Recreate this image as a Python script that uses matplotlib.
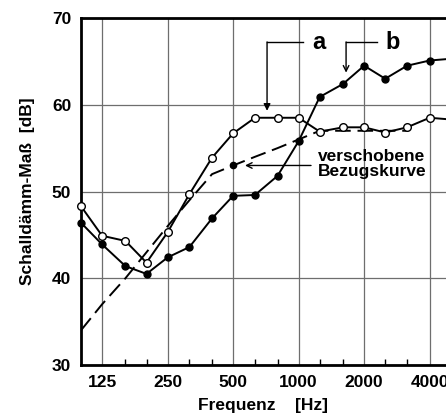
import numpy as np
import matplotlib
matplotlib.use('Agg')
import matplotlib.pyplot as plt
from matplotlib.ticker import FixedLocator, NullFormatter

plt.rcParams['font.family'] = ['Liberation Sans', 'DejaVu Sans']
plt.rcParams['font.weight'] = 'bold'

# third-octave band centres
freqs = [100, 125, 160, 200, 250, 315, 400, 500, 630, 800, 1000,
         1250, 1600, 2000, 2500, 3150, 4000, 5000]
curve_a = [48.3, 44.9, 44.3, 41.8, 45.3, 49.7, 53.9, 56.7, 58.5, 58.5, 58.5,
           56.9, 57.4, 57.4, 56.8, 57.4, 58.5, 58.3]
curve_b = [46.4, 43.9, 41.4, 40.5, 42.4, 43.6, 46.9, 49.5, 49.6, 51.8, 55.8,
           60.9, 62.4, 64.5, 63.0, 64.5, 65.1, 65.3]
ref_freqs = [100, 125, 160, 200, 250, 315, 400, 500, 630, 800, 1000,
             1250, 1600, 2000, 2500, 3150]
ref_curve = [34, 37, 40, 43, 46, 49, 52, 53, 54, 55, 56, 57, 57, 57, 57, 57]
octave_ticks = [125, 250, 500, 1000, 2000, 4000]
octave_labels = ['125', '250', '500', '1000', '2000', '4000']
y_ticks = [30, 40, 50, 60, 70]

fig = plt.figure(figsize=(4.46, 4.20), dpi=100)
ax = fig.add_axes([81 / 446, 55 / 420, 365 / 446, 347 / 420])
ax.set_xscale('log', base=2)
ax.set_xlim(100, 4755)
ax.set_ylim(30, 70)

ax.plot(ref_freqs, ref_curve, color='black', lw=1.4, ls=(0, (8, 3.5)), zorder=3)
ax.plot([500], [53], 'o', color='black', ms=4.5, zorder=4)
ax.plot(freqs, curve_a, '-o', color='black', lw=1.4, ms=5.5,
        mfc='white', mec='black', mew=1.0, zorder=5, clip_on=False)
ax.plot(freqs, curve_b, '-o', color='black', lw=1.4, ms=5.0,
        mfc='black', mec='black', zorder=5, clip_on=False)

ax.xaxis.set_major_locator(FixedLocator(octave_ticks))
ax.set_xticklabels(octave_labels)
ax.xaxis.set_minor_locator(FixedLocator([160, 200, 315, 400, 630, 800,
                                         1250, 1600, 2500, 3150]))
ax.xaxis.set_minor_formatter(NullFormatter())
ax.set_yticks(y_ticks)
ax.tick_params(axis='both', which='major', length=0, pad=7, labelsize=12.5)
ax.tick_params(axis='x', which='minor', direction='in', length=4, width=1)
ax.grid(True, which='major', color='#6e6e6e', lw=0.9)

for side in ['left', 'bottom', 'top']:
    ax.spines[side].set_linewidth(2)
ax.spines['right'].set_visible(False)

ax.set_ylabel('Schalldämm-Maß  [dB]', fontsize=12.5, fontweight='bold', labelpad=12)
ax.set_xlabel('Frequenz    [Hz]', fontsize=12.5, fontweight='bold', labelpad=6)

# labels with bent leader arrows
ax.text(1234, 67.2, 'a', fontsize=17, fontweight='bold', ha='center', va='center')
ax.plot([1048, 716], [67.24, 67.24], color='black', lw=1)
ax.annotate('', xy=(716, 59.3), xytext=(716, 67.24),
            arrowprops=dict(arrowstyle='-|>', color='black', lw=1,
                            mutation_scale=10, shrinkA=0, shrinkB=0))
ax.text(2715, 67.2, 'b', fontsize=17, fontweight='bold', ha='center', va='center')
ax.plot([2293, 1652], [67.24, 67.24], color='black', lw=1)
ax.annotate('', xy=(1652, 63.7), xytext=(1652, 67.24),
            arrowprops=dict(arrowstyle='->', color='black', lw=1,
                            mutation_scale=10, shrinkA=0, shrinkB=0))

ax.text(1228, 53.2, 'verschobene\nBezugskurve', fontsize=12.5, fontweight='bold',
        ha='left', va='center', linespacing=1.0, zorder=6)
ax.annotate('', xy=(567, 53.0), xytext=(1140, 53.0),
            arrowprops=dict(arrowstyle='->', color='black', lw=1,
                            mutation_scale=10, shrinkA=0, shrinkB=0))

fig.savefig('out.png', dpi=100)
